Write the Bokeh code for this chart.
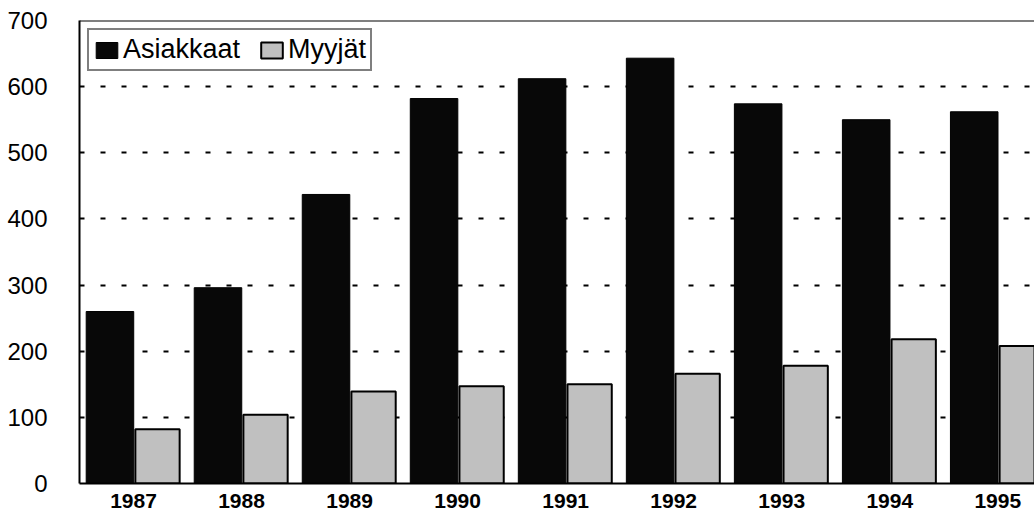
from bokeh.plotting import figure
from bokeh.models import Range1d, FixedTicker, Legend, LegendItem, Span, ColumnDataSource
from bokeh.transform import dodge
from bokeh.embed import file_html
from bokeh.resources import INLINE

years = [1987, 1988, 1989, 1990, 1991, 1992, 1993, 1994, 1995]
year_labels = ["1987", "1988", "1989", "1990", "1991", "1992", "1993", "1994", "1995"]
asiakkaat = [260, 296, 437, 582, 612, 643, 574, 550, 562]
myyjat = [82, 104, 139, 147, 150, 166, 178, 218, 208]
y_ticks = [0, 100, 200, 300, 400, 500, 600, 700]

src = ColumnDataSource(dict(year=years, asiakkaat=asiakkaat, myyjat=myyjat))

FONT = "Liberation Sans"

p = figure(width=1034, height=520, output_backend="svg", toolbar_location=None,
           x_range=Range1d(1986.5, 1995.34), y_range=Range1d(0, 700),
           min_border_left=79, min_border_top=20, min_border_bottom=37, min_border_right=0)
p.outline_line_color = None
p.background_fill_color = "white"
p.border_fill_color = "white"

r1 = p.vbar(x=dodge("year", -0.218, range=p.x_range), top="asiakkaat", width=0.44, source=src,
            fill_color="#080808", line_color="#000000", line_width=1)
r2 = p.vbar(x=dodge("year", 0.222, range=p.x_range), top="myyjat", width=0.41, source=src,
            fill_color="#c0c0c0", line_color="#000000", line_width=2)

# top border
p.add_layout(Span(location=700, dimension="width", line_color="black", line_width=2))

p.xaxis.ticker = FixedTicker(ticks=years)
p.xaxis.major_label_overrides = {y: l for y, l in zip(years, year_labels)}
p.xaxis.major_tick_line_color = None
p.xaxis.minor_tick_line_color = None
p.xaxis.axis_line_color = "black"
p.xaxis.axis_line_width = 2
p.xaxis.major_label_text_font = FONT
p.xaxis.major_label_text_font_size = "21px"
p.xaxis.major_label_text_font_style = "bold"
p.xaxis.major_label_text_color = "black"
p.xaxis.major_label_standoff = 4

p.yaxis.ticker = FixedTicker(ticks=y_ticks)
p.yaxis.major_tick_line_color = None
p.yaxis.minor_tick_line_color = None
p.yaxis.axis_line_color = "black"
p.yaxis.axis_line_width = 2
p.yaxis.major_label_text_font = FONT
p.yaxis.major_label_text_font_size = "24px"
p.yaxis.major_label_text_color = "black"
p.yaxis.major_label_standoff = 26

p.xgrid.grid_line_color = None
p.ygrid.grid_line_color = "black"
p.ygrid.grid_line_width = 2
p.ygrid.grid_line_dash = "5 16"
p.ygrid.ticker = FixedTicker(ticks=[100, 200, 300, 400, 500, 600])

legend = Legend(items=[LegendItem(label="Asiakkaat", renderers=[r1]),
                       LegendItem(label="Myyjät", renderers=[r2])],
                location="top_left", orientation="horizontal")
legend.margin = 8
legend.padding = 4
legend.spacing = 18
legend.glyph_width = 27
legend.glyph_height = 20
legend.label_standoff = 3
legend.label_text_font = FONT
legend.label_text_font_size = "27px"
legend.label_text_color = "black"
legend.border_line_color = "black"
legend.border_line_width = 2
legend.background_fill_color = "white"
legend.background_fill_alpha = 1.0
p.add_layout(legend)

open("out.html", "w").write(file_html(p, INLINE))
